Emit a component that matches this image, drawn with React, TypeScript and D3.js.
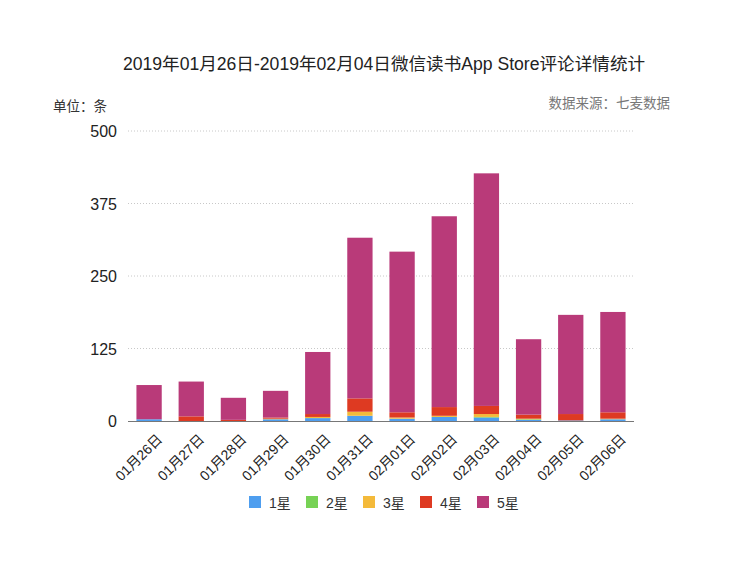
import React from "react";
import * as d3 from "d3";

const categories = ["01月26日", "01月27日", "01月28日", "01月29日", "01月30日", "01月31日", "02月01日", "02月02日", "02月03日", "02月04日", "02月05日", "02月06日"];
const seriesNames = ["1星", "2星", "3星", "4星", "5星"];
const star1 = [3, 0, 0, 3, 5, 9, 4, 7, 6, 2, 1, 3];
const star2 = [0, 0, 0, 0, 0, 0, 0, 0, 1, 1, 0, 0];
const star3 = [0, 0, 0, 1, 2, 7, 2, 2, 5, 1, 0, 1];
const star4 = [0, 8, 2, 2, 5, 23, 9, 15, 14, 7, 11, 11];
const star5 = [59, 60, 38, 46, 107, 277, 277, 329, 401, 130, 171, 173];
const yTicks = [0, 125, 250, 375, 500];
const colors = ["#4E9EEF", "#77D255", "#F4BA3A", "#DE3A22", "#B93A79"];

const W = 750, H = 562;
const left = 128, right = 634, top = 131, bottom = 421;
const FONT = "'Liberation Sans', 'Noto Sans CJK SC', sans-serif";

export default function App() {
  const series = [star1, star2, star3, star4, star5];
  const rows = categories.map((c, i) => {
    const r: any = { cat: c };
    seriesNames.forEach((s, k) => (r[s] = series[k][i]));
    return r;
  });
  const stacked = d3.stack().keys(seriesNames)(rows as any);
  const x = d3.scaleBand().domain(categories).range([left, right]).paddingInner(0.4).paddingOuter(0.2);
  const y = d3.scaleLinear().domain([0, 500]).range([bottom, top]);

  return (
    <svg width={W} height={H} style={{ position: "absolute", left: 0, top: 0, background: "#fff" }} fontFamily={FONT}>
      <text x={384} y={70} textAnchor="middle" fontSize={17.6} fill="#222">2019年01月26日-2019年02月04日微信读书App Store评论详情统计</text>
      <text x={53} y={111} fontSize={13.5} fill="#333">单位：条</text>
      <text x={670} y={108} textAnchor="end" fontSize={13.5} fill="#777">数据来源：七麦数据</text>
      {yTicks.map((t) => (
        <g key={t}>
          {t > 0 && <line x1={left} x2={right} y1={y(t)} y2={y(t)} stroke="#c8c8c8" strokeDasharray="1,2" />}
          <text x={117} y={y(t) + 6} textAnchor="end" fontSize={16} fill="#222">{t}</text>
        </g>
      ))}
      {stacked.map((s, k) => (
        <g key={s.key} fill={colors[k]}>
          {s.map((d: any, i) => (
            <rect key={i} x={x(categories[i])} width={x.bandwidth()} y={y(d[1])} height={Math.max(0, y(d[0]) - y(d[1]))} />
          ))}
        </g>
      ))}
      <line x1={left} x2={right} y1={bottom + 0.5} y2={bottom + 0.5} stroke="#777" strokeWidth={1} />
      {categories.map((c) => {
        const cx = (x(c) as number) + x.bandwidth() / 2 + 14;
        const cy = bottom + 19;
        return (
          <text key={c} x={cx} y={cy} transform={`rotate(-45 ${cx} ${cy})`} textAnchor="end" fontSize={14} fill="#222">{c}</text>
        );
      })}
      {seriesNames.map((s, k) => {
        const lx = 249 + k * 57;
        return (
          <g key={s}>
            <rect x={lx} y={496} width={12} height={12} fill={colors[k]} />
            <text x={lx + 20} y={507.5} fontSize={14} fill="#333">{s}</text>
          </g>
        );
      })}
    </svg>
  );
}
